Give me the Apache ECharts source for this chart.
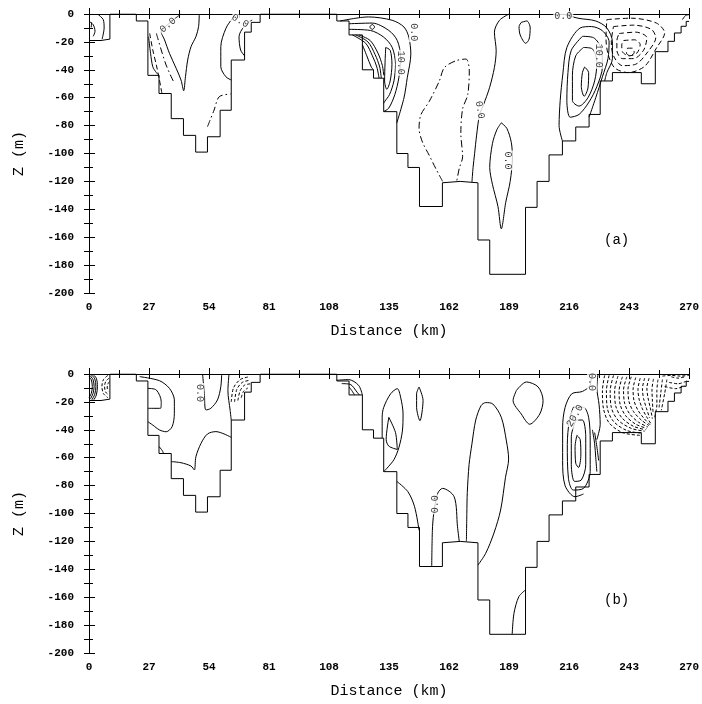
<!DOCTYPE html>
<html>
<head>
<meta charset="utf-8">
<script src="https://cdn.jsdelivr.net/npm/echarts@6/dist/echarts.min.js"></script>
<style>
  html, body { margin: 0; padding: 0; background: #fff; }
  #chart { width: 702px; height: 704px; }
</style>
</head>
<body>
<div id="chart"></div>
<script>
// axis ticks
const xTicks = [0, 27, 54, 81, 108, 135, 162, 189, 216, 243, 270]
const zTicks = [-200, -180, -160, -140, -120, -100, -80, -60, -40, -20, 0]

// bottom outline (km, m), same grid in both panels
const bathy = [[0,-19],[5.4,-19],[5.4,-18],[9.4,-18],[9.4,0],[21.3,0],[21.3,-5],[26.5,-5],[26.5,-44],[31.5,-44],
  [31.5,-57],[37,-57],[37,-75],[42.5,-75],[42.5,-87],[48,-87],[48,-99],[53.3,-99],[53.3,-88],[59,-88],[59,-69],
  [64,-69],[64,-33],[70,-33],[70,-13],[73,-13],[73,-6],[77,-6],[77,0],[111.5,0],[111.5,-5],[117,-5],[117,-15],
  [123,-15],[123,-40],[128,-40],[128,-46],[132.6,-46],[132.6,-70],[138.5,-70],[138.5,-100],[143.5,-100],
  [143.5,-110],[148.7,-110],[148.7,-138],[159,-138],[159,-121],[167,-120],[175,-121],[175,-162],[180.3,-162],
  [180.3,-186.6],[196.4,-186.6],[196.4,-138.6],[201.6,-138.6],[201.6,-120],[207,-120],[207,-101],[213,-101],
  [213,-91],[219,-91],[219,-81],[225,-81],[225,-72],[230,-72],[230,-48],[235.5,-48],[235.5,-42],[248.5,-42],
  [248.5,-50],[254.8,-50],[254.8,-27],[260.5,-27],[260.5,-19.6],[263.4,-19.6],[263.4,-13.6],[266.4,-13.6],
  [266.4,-8.8],[268.7,-8.8],[268.7,-5.3],[270,-5.3]]

// panel (a) contours
const solidA = [
  [[4.2,-0.5],[6.4,-4],[6.8,-10],[5.9,-18]],
  [[0,-5.2],[1.9,-7.7],[2.7,-12.4],[1.9,-16]],
  [[41.4,0],[38.5,-3.5],[35.5,-7.5],[32.5,-12.7],[34,-18.6],[36.2,-28.2],[39.2,-38.9],[41.4,-47.3],[42.6,-55],
   [43.4,-45],[44.4,-33],[45.9,-23.4],[48.1,-16.3],[49.3,-9.1],[49.6,0]],
  [[26.8,-16.3],[27.7,-28.2],[28.7,-37.8],[30.3,-42],[31.5,-44]],
  [[66,0],[64.5,-3.1],[61.6,-10.3],[59.3,-23.4],[59.3,-37.8],[61.6,-45],[64,-47.3]],
  [[73.4,-4.3],[69.7,-9.1],[67.5,-16.3],[68.2,-25.8],[70,-30]],
  [[113,-5],[125.8,-2.1],[136.4,-4.5],[141.7,-9.3],[143.9,-16.6],[144.8,-28.7],[143.2,-45.7],[141.7,-60.2],[138.5,-78]],
  [[117,-7],[127.4,-6.5],[134.9,-11.8],[138.7,-19],[140.2,-31.1],[139.4,-45.7],[137.6,-57.8],[134.9,-67.4],[132.6,-69.9]],
  [[117,-11],[126.6,-11.8],[132.6,-16.6],[136.4,-23.9],[137.9,-36],[137.2,-48],[135.2,-57.8],[133.1,-62.6],[132.6,-64]],
  [[133.5,-24],[135.5,-26],[136.3,-36],[135.5,-48],[134,-54],[133,-48],[133.2,-35],[133.5,-24]],
  [[118.5,-15],[124.5,-21],[127.5,-30],[129.5,-38],[130.5,-46]],
  [[120,-15],[125.5,-20],[128.7,-29],[130.8,-38],[131.5,-46]],
  [[121.5,-15],[126.5,-19],[130,-28],[132,-37],[132.6,-44]],
  [[123,-22],[125,-30],[127,-38],[128,-40]],
  [[126.3,-9.3],[127.4,-7.5],[128.5,-9.3],[127.4,-11.1],[126.3,-9.3]],
  [[189,0],[184.7,-4.5],[182.4,-13],[183.2,-26.3],[182.4,-38.4],[180.2,-52.9],[177.5,-65],[175.7,-72.3],
   [174.4,-86.8],[173.5,-100],[172.8,-110],[172.3,-120.5]],
  [[194.5,-6],[197,-5],[198.5,-10],[198,-18],[196.5,-21],[194,-15],[193.5,-9],[194.5,-6]],
  [[185.5,-78],[188,-82],[190,-92],[190.5,-103],[189.5,-120],[187.5,-135],[185.5,-154],[184,-138],[181.5,-122],
   [180.3,-110],[181.5,-93],[183.5,-83],[185.5,-78]],
  [[213,-91],[211.5,-80],[212,-62],[213.2,-43],[215,-24],[221,-10],[226,-9],[231,-12],[234,-20],[233.5,-32],
   [231,-45],[228,-60],[225,-74]],
  [[213.4,0],[220,-3],[228,-5],[233,-10],[235.5,-20],[235.5,-32],[233,-42],[232,-48]],
  [[222,-16],[227,-17],[230.5,-25],[231,-38],[228.5,-52],[225,-63],[220.5,-72],[216.5,-74],[215,-62],[215.5,-42],
   [217,-26],[222,-16]],
  [[222.5,-24],[226.5,-25],[228.5,-35],[227.5,-48],[224.5,-60],[220.5,-66],[217.5,-62],[217.5,-44],[219,-30],[222.5,-24]],
  [[223,-38],[224.8,-42],[224.5,-53],[222.8,-59],[221.5,-52],[222,-42],[223,-38]],
  [[267,-4],[268.5,-1],[270,-0.5]]
]
const dashedA = [
  [[27.3,-13.9],[28.7,-25.8],[30.3,-36.6],[31.7,-47.3],[32.8,-56.9]],
  [[233,-4],[244,-3],[255.3,-6.5],[259,-13.6],[255.3,-24.4],[250,-37.5],[242.6,-42],[236.6,-38.7],[233.6,-29.2],
   [232.6,-17.2],[233,-4]],
  [[236,-9],[245,-8],[253,-11],[255,-17],[251,-28],[246,-36],[240,-37],[236,-30],[235,-20],[236,-9]],
  [[238.5,-14],[246,-13],[251,-17],[249.5,-26],[245,-32],[240,-32],[237.5,-26],[237.5,-19],[238.5,-14]],
  [[240.5,-19],[245.5,-18.5],[248,-22],[246.5,-28],[243,-30],[240,-27],[239.7,-22],[240.5,-19]],
  [[242.3,-24.5],[244.5,-24.5],[245.3,-27.5],[243.5,-30],[241.8,-28],[242.3,-24.5]],
  [[1.2,-6],[0.9,-11]]
]
const dashdotA = [
  [[30.3,-13.9],[32.5,-25.8],[34.7,-36.6],[37,-45],[38.4,-49.7]],
  [[53.3,-80.8],[56.3,-68.8],[58.6,-59.3],[63.8,-57.3]],
  [[159.1,-120],[156.1,-111],[153.1,-101.4],[150,-91.7],[148.5,-82],[149.3,-72.3],[153.1,-62.6],[157.6,-48.1],
   [159.9,-38.4],[165.1,-33.5],[169.6,-32.3],[171.1,-40.8],[170.4,-57.8],[168.1,-68],[167.3,-85.5],[168.1,-102.3],
   [166.6,-110.6],[165.5,-119.5]]
]
const labelsA = [
  [35.5,-8,'0.0',40],[68,-5,'0.0',-30],[146.2,-13,'0.0',-90],[140.2,-35,'10.0',-90],[175.9,-68.7,'0.0',-80],
  [188.5,-105,'0.0',-90],[213.4,-1.5,'0.0',0],[229.3,-30,'10.0',-90]
]

// panel (b) contours
const solidB = [
  [[0,-2],[1,-4],[1.5,-9],[1,-14],[0,-17]],
  [[0.4,-1],[1.8,-4],[2.3,-9],[1.8,-14],[0.6,-18]],
  [[1,-0.5],[2.6,-3.5],[3.1,-9],[2.6,-14.5],[1.3,-18.5]],
  [[1.8,-0.3],[3.3,-3],[3.8,-9],[3.3,-15],[2.2,-18.5]],
  [[26.5,-10.3],[30.3,-11.5],[32.5,-19.8],[32.2,-24.6],[26.5,-24.6]],
  [[22.8,-1.9],[31.7,-4.8],[36.2,-10.3],[38.4,-18.6],[38.4,-28.2],[37.4,-37.8],[34.7,-41.4],[31.7,-40.1],
   [28.7,-36.6],[26.5,-34.2]],
  [[51.1,0],[51.9,-13.9],[52.6,-25.8],[54.8,-24.6],[57.8,-18.6],[59.3,-9.1],[59.7,0]],
  [[64,-45.4],[57.1,-41.3],[53.3,-43],[50.4,-49.7],[48.1,-59.3],[47.4,-68.8],[45.9,-66],[41.4,-63.6],[37,-62.8]],
  [[31.5,-52],[33,-55],[33.5,-57]],
  [[63,0],[62.5,-12],[63.5,-26],[64,-33]],
  [[111.5,-4.5],[116.8,-4],[121.3,-8.1],[123,-15]],
  [[113.7,-6.9],[117.5,-7.4],[120.6,-13],[121.6,-15]],
  [[117,-9.3],[118.2,-11.8],[119.5,-15]],
  [[131.9,-46],[131.9,-31],[132.6,-23.9],[135.7,-14.2],[138.7,-10.5],[140.2,-16.6],[141.3,-28.7],[141,-40.9],
   [139.4,-52.9],[137.2,-61.4],[134.1,-67.5],[132.6,-70]],
  [[134.9,-31.1],[137.9,-42],[138.7,-54.1],[134.9,-51.7],[133.7,-46.9],[134.9,-31.1]],
  [[148.5,-9.3],[150.3,-19],[148.9,-33.5],[147.4,-23.9],[147.4,-14.2],[148.5,-9.3]],
  [[169.8,-120],[170,-100],[170.2,-85],[171,-65],[172.3,-50],[174,-33],[176.4,-22.7],[178.5,-20.5],[181.7,-21.5],
   [185.5,-31],[187.8,-48],[188.8,-61],[187.4,-74],[185.2,-97.5],[182.2,-114],[178.5,-128.5],[175,-137]],
  [[154.2,-138],[154.5,-112],[155.1,-100.2],[156.9,-85.5],[159.1,-82],[164.3,-88],[165.8,-109.5],[166.6,-120.2]],
  [[138.5,-77],[143.5,-84.4],[146.5,-95.2],[148.5,-112]],
  [[190.4,-186.6],[191.2,-171.6],[193.4,-159.6],[196.4,-154.8]],
  [[192.3,-11.8],[196.8,-5.7],[202.1,-9.3],[204.3,-19],[202.8,-28.7],[198.3,-36],[194.5,-28.7],[190.8,-19],[192.3,-11.8]],
  [[226,0],[225.5,-8],[222,-12.5],[217.2,-14.2],[214.2,-24],[213.1,-38],[213.1,-62],[214.2,-80],[218.7,-88],[222.5,-86]],
  [[229,0],[228.5,-10],[229.5,-22],[230,-36],[228.5,-47]],
  [[217.9,-23.9],[222.5,-23.9],[224.8,-31.1],[225.5,-48.1],[225.5,-69.9],[222.5,-82],[217.9,-83.2],[215.7,-74.7],
   [215.2,-50.5],[216.1,-33.5],[217.9,-23.9]],
  [[219,-33],[222,-33],[223.5,-45],[223.5,-65],[221.5,-76],[218.5,-77],[217,-65],[217,-45],[219,-33]],
  [[219.5,-44],[221,-47],[221.3,-58],[220.3,-67],[219,-64],[218.7,-52],[219.5,-44]],
  [[226.5,-40],[227.5,-50],[228,-60],[228.5,-70]],
  [[227.5,-42],[228.5,-52],[229.3,-62]]
]
const dashedB = [
  [[8.5,-1],[6.5,-4],[5.8,-9],[6.5,-14],[8.5,-17]],
  [[9,-3],[7.5,-5.5],[7,-9],[7.5,-13],[9,-15]],
  [[9.2,-5.5],[8.4,-7.5],[8.2,-10],[8.6,-12.5]],
  [[64,-20],[65,-10],[68,-4],[72,-2]],
  [[65.5,-20],[66.5,-11],[69,-6],[72.5,-4.5]],
  [[67,-19],[68,-12],[70,-8],[73,-7]],
  [[68.5,-17],[69.5,-12.5],[71.5,-10]],
  [[232,-1],[231,-12],[231.5,-25],[234,-35],[240,-42],[248,-44]],
  [[234,-1],[232.8,-12],[233.2,-24.5],[236,-34],[242,-40.5],[249,-42.5]],
  [[236,-1],[234.5,-12],[235,-24],[238,-33],[244,-39],[250,-41]],
  [[238,-1.5],[236.5,-12],[237,-23],[239.8,-31.5],[245,-37.5],[250.5,-40]],
  [[240,-2],[238.5,-12],[239,-22],[241.5,-30],[246,-36],[251,-39]],
  [[242,-2],[240.5,-11.5],[241,-21],[243.2,-28.5],[247.2,-34.5],[251.5,-38]],
  [[244,-2],[242.5,-11],[243,-20],[245,-27],[248.5,-33],[252,-37]],
  [[246,-2.5],[244.8,-11],[245.2,-19],[247,-26],[249.8,-32],[252.5,-36.5]],
  [[248,-3],[247,-11],[247.5,-18],[249,-25],[251,-31],[253,-36]],
  [[250,-3],[249,-10.5],[249.5,-17.5],[250.8,-24.5],[252.2,-31.5]],
  [[252,-3],[251,-10],[251.5,-17],[252.5,-24],[253.5,-32]],
  [[254,-3.5],[253.3,-11],[253.5,-19.5],[253.8,-28]],
  [[256,-4],[255.5,-12],[255.5,-22],[254.5,-31]],
  [[258,-4],[257.3,-13],[256.5,-24]],
  [[260,-4],[259,-14],[257.5,-26]],
  [[258,-1.5],[262,-1],[266,-1.5],[270,-1]],
  [[262,-2],[265,-3],[268,-2]],
  [[261,-6],[265,-7],[269,-5]],
  [[259,-9],[264,-10.5],[268,-8.5]]
]
const labelsB = [
  [49.6,-13.6,'0.0',-90],[226.3,-5.7,'0.0',-90],[218.7,-30,'20.0',60],[155.7,-93.4,'0.0',90]
]

const chart = echarts.init(document.getElementById('chart'))
const fontMono = '"Liberation Mono", "DejaVu Sans Mono", monospace'
const dashDot = [7, 3, 1.5, 3]

function makeAxes(i) {
  const top = i === 0 ? 14 : 374
  return {
    grid: { left: 89, right: 9, top: top, height: 279 },
    x: [
      {
        type: 'value', gridIndex: i, position: 'bottom', min: 0, max: 270, interval: 27,
        name: 'Distance (km)', nameLocation: 'middle', nameGap: 31,
        nameTextStyle: { fontFamily: fontMono, fontSize: 15, color: '#000' },
        axisLine: { lineStyle: { color: '#000', width: 1 } },
        axisTick: { inside: true, length: 6, lineStyle: { color: '#000' } },
        minorTick: { show: true, splitNumber: 2, length: 4, lineStyle: { color: '#000' } },
        splitLine: { show: false },
        axisLabel: { fontFamily: fontMono, fontWeight: 'bold', fontSize: 11, color: '#000', margin: 9 },
      },
      {
        type: 'value', gridIndex: i, position: 'top', min: 0, max: 270, interval: 27,
        axisLine: { lineStyle: { color: '#000', width: 1 } },
        axisTick: { inside: true, length: 5, lineStyle: { color: '#000' } },
        minorTick: { show: true, splitNumber: 2, length: 4, lineStyle: { color: '#000' } },
        splitLine: { show: false },
        axisLabel: { show: false },
      },
    ],
    y: [
      {
        type: 'value', gridIndex: i, position: 'left', min: -200, max: 0, interval: 20,
        name: 'Z (m)', nameLocation: 'middle', nameGap: 62, nameRotate: 90,
        nameTextStyle: { fontFamily: fontMono, fontSize: 15, color: '#000' },
        axisLine: { lineStyle: { color: '#000', width: 1 } },
        axisTick: { inside: true, length: 6, lineStyle: { color: '#000' } },
        minorTick: { show: true, splitNumber: 2, length: 4, lineStyle: { color: '#000' } },
        splitLine: { show: false },
        axisLabel: { fontFamily: fontMono, fontWeight: 'bold', fontSize: 11, color: '#000', margin: 15 },
      },
      {
        type: 'value', gridIndex: i, position: 'right', min: -200, max: 0, interval: 10,
        axisLine: { lineStyle: { color: '#000', width: 1 } },
        axisTick: { inside: true, length: 5, lineStyle: { color: '#000' } },
        splitLine: { show: false },
        axisLabel: { show: false },
      },
    ],
  }
}

function lines(list, i, type, smooth) {
  return list.map(pts => ({
    type: 'line', xAxisIndex: i * 2, yAxisIndex: i * 2, data: pts,
    showSymbol: false, symbol: 'none', smooth: smooth, silent: true,
    lineStyle: { color: '#000', width: 1, type: type },
  }))
}

function labels(list, i) {
  return {
    type: 'scatter', xAxisIndex: i * 2, yAxisIndex: i * 2, symbolSize: 1, silent: true, z: 5,
    itemStyle: { color: 'rgba(0,0,0,0)' },
    data: list.map(d => ({
      value: [d[0], d[1]],
      label: { rotate: d[3] },
      name: d[2],
    })),
    label: {
      show: true, position: 'inside', formatter: p => p.name,
      fontFamily: fontMono, fontSize: 10, color: '#000', backgroundColor: '#fff', padding: [0, 1],
    },
  }
}

const a = makeAxes(0)
const b = makeAxes(1)
let series = []
series.push(...lines([bathy], 0, 'solid', false))
series.push(...lines([bathy], 1, 'solid', false))
series.push(...lines(solidA, 0, 'solid', 0.3))
series.push(...lines(dashedA, 0, [5, 3], 0.3))
series.push(...lines(dashdotA, 0, dashDot, 0.3))
series.push(...lines(solidB, 1, 'solid', 0.3))
series.push(...lines(dashedB, 1, [3, 2], 0.3))
series.push(labels(labelsA, 0))
series.push(labels(labelsB, 1))

chart.setOption({
  animation: false,
  backgroundColor: '#fff',
  grid: [a.grid, b.grid],
  xAxis: [...a.x, ...b.x],
  yAxis: [...a.y, ...b.y],
  graphic: [
    { type: 'text', left: 604, top: 233, style: { text: '(a)', font: '14px ' + fontMono, fill: '#000' } },
    { type: 'text', left: 604, top: 593, style: { text: '(b)', font: '14px ' + fontMono, fill: '#000' } },
  ],
  series: series,
})
</script>
</body>
</html>
